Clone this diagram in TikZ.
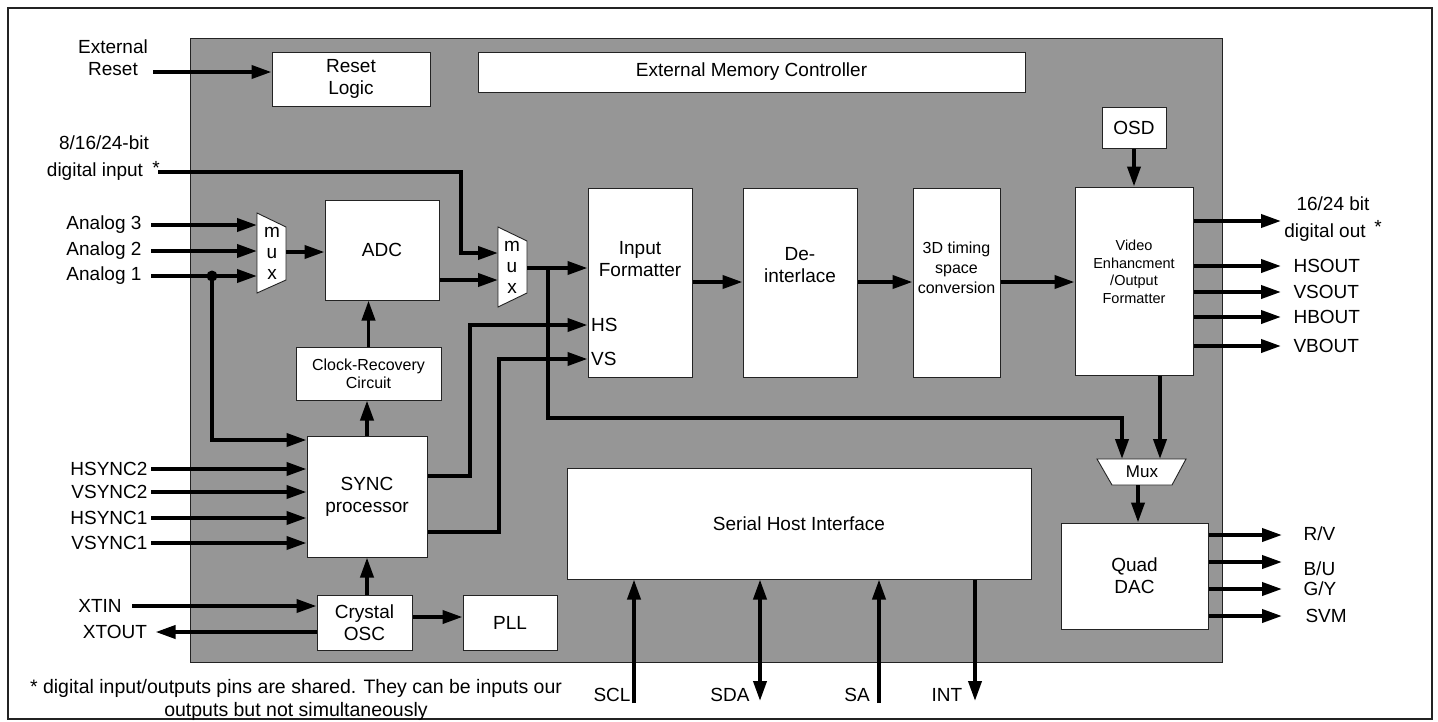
\documentclass[tikz,border=0pt]{standalone}
\usepackage{fontspec}
\setmainfont{Liberation Sans}
\usepackage{xcolor}
\usetikzlibrary{arrows.meta,positioning,calc}
\definecolor{chipgray}{RGB}{150,150,150}
\definecolor{edgegray}{RGB}{35,35,35}
\tikzset{
  blk/.style={draw=edgegray, fill=white, line width=1pt, inner sep=0pt, align=center},
  wire/.style={line width=3.8pt},
  muxshape/.style={draw=edgegray, fill=white, line width=0.9pt},
  smalltxt/.style={font=\fontsize{16}{18}\selectfont},
}
\begin{document}
\begin{tikzpicture}[x=1pt, y=-1pt, >={Triangle[length=20pt,width=13pt]}, font=\fontsize{19}{22}\selectfont, every node/.append style={align=center}]
        \useasboundingbox (0,0) rectangle (1438,721);
        % Frame and chip area
        \draw[line width=1.5pt, draw=edgegray] (8,8) rectangle (1432,719);
        \draw[fill=chipgray, draw=edgegray, line width=1pt] (190,38) rectangle (1222,662);

        % Top row blocks
        \node[blk, minimum width=158pt, minimum height=54pt] (rst) at (351,79) {Reset\\Logic};
        \node[blk, minimum width=547pt, minimum height=40pt] (emc) at (751.5,72) {External Memory Controller};
        \node[blk, minimum width=64pt, minimum height=41pt] (osd) at (1134,128) {OSD};

        % Video pipeline
        \node[blk, minimum width=114pt, minimum height=100pt] (adc) at (382,250) {ADC};
        \node[blk, minimum width=104pt, minimum height=189pt] (infmt) at (640,282.5) {};
        \node (infmtT) at (640,259) {Input\\Formatter};
        \node[anchor=west, inner sep=0pt] (hs) at (591,325) {HS};
        \node[anchor=west, inner sep=0pt] (vs) at (591,359) {VS};
        \node[blk, minimum width=114pt, minimum height=189pt] (deint) at (800,282.5) {};
        \node (deintT) at (800,265) {De-\\interlace};
        \node[blk, minimum width=87pt, minimum height=189pt] (conv) at (956.5,282.5) {};
        \node[font=\fontsize{16}{20}\selectfont] (convT) at (956.5,268) {3D timing\\space\\conversion};
        \node[blk, minimum width=118pt, minimum height=188pt] (video) at (1134,281) {};
        \node[font=\fontsize{14.5}{17.5}\selectfont] (videoT) at (1134,272) {Video\\Enhancment\\/Output\\Formatter};

        % Muxes
        \draw[muxshape] (257,213) -- (286,227) -- (286,280) -- (257,293) -- cycle;
        \node[font=\fontsize{19}{21}\selectfont] (mux1) at (272,253) {m\\u\\x};
        \coordinate (mux1in) at (257,253);
        \coordinate (mux1out) at (286,252);
        \draw[muxshape] (498,227) -- (527,241) -- (527,293) -- (498,307) -- cycle;
        \node[font=\fontsize{19}{21}\selectfont] (mux2) at (512,267) {m\\u\\x};
        \coordinate (mux2in) at (498,267);
        \coordinate (mux2out) at (527,268);
        \draw[muxshape] (1097,459) -- (1186,459) -- (1172,485) -- (1112,485) -- cycle;
        \node[font=\fontsize{17}{20}\selectfont] (mux3) at (1142,472) {Mux};
        \coordinate (mux3a) at (1122,459);
        \coordinate (mux3b) at (1160,459);
        \coordinate (mux3out) at (1138,485);

        % Lower blocks
        \node[blk, smalltxt, minimum width=145pt, minimum height=53pt] (clk) at (368.5,373.5) {Clock-Recovery\\Circuit};
        \node[blk, minimum width=120pt, minimum height=121pt] (sync) at (367,496.5) {SYNC\\processor};
        \node[blk, minimum width=95pt, minimum height=55pt] (xtal) at (364.5,622.5) {Crystal\\OSC};
        \node[blk, minimum width=94pt, minimum height=55pt] (pll) at (510,622.5) {PLL};
        \node[blk, minimum width=464pt, minimum height=111pt] (shi) at (799,523.5) {Serial Host Interface};
        \node[blk, minimum width=147pt, minimum height=106pt] (dac) at (1134.5,576) {Quad\\DAC};

        % Left side inputs
        \node (extrst) at (113,58) {External\\Reset};
        \coordinate (rstin) at (153,72);
        \draw[wire,->] (rstin) -- (rstin -| rst.west);
        \node (din1) at (104,143) {8/16/24-bit};
        \node (din2) at (95,172) {digital input};
        \node (star1) at (156,168) {*};
        \coordinate (dinstart) at (158,172);
        \coordinate (dinbend) at (461,172);
        \draw[wire,->] (dinstart) -- (dinbend) |- (mux2in |- 0,253);
        \node[anchor=east] (an3) at (145,225) {Analog 3};
        \node[anchor=east] (an2) at (145,251) {Analog 2};
        \node[anchor=east] (an1) at (145,276) {Analog 1};
        \draw[wire,->] ([xshift=6pt]an3.east) -- (an3.east -| mux1in);
        \draw[wire,->] ([xshift=6pt]an2.east) -- (an2.east -| mux1in);
        \draw[wire,->] ([xshift=6pt]an1.east) -- (an1.east -| mux1in);
        \coordinate (tapA) at (212,276);
        \fill (tapA) circle (5.5);
        \draw[wire,->] (tapA) -- (tapA |- 0,440) -- (sync.west |- 0,440);
        \node[anchor=east] (hsync2) at (151,469) {HSYNC2};
        \node[anchor=east] (vsync2) at (151,492) {VSYNC2};
        \node[anchor=east] (hsync1) at (151,518) {HSYNC1};
        \node[anchor=east] (vsync1) at (151,543) {VSYNC1};
        \draw[wire,->] (hsync2.east) -- (hsync2.east -| sync.west);
        \draw[wire,->] (vsync2.east) -- (vsync2.east -| sync.west);
        \draw[wire,->] (hsync1.east) -- (hsync1.east -| sync.west);
        \draw[wire,->] (vsync1.east) -- (vsync1.east -| sync.west);
        \node (xtin) at (100,606) {XTIN};
        \node (xtout) at (115,632) {XTOUT};
        \draw[wire,->] ([xshift=32pt]xtin.center) -- (xtal.west |- xtin);
        \draw[wire,->] (xtal.west |- xtout) -- ([xshift=5pt]xtout.east);

        % Internal connections
        \draw[wire,->] (mux1out) -- (mux1out -| adc.west);
        \draw[wire,->] (adc.east |- 0,280) -- (mux2in |- 0,280);
        \draw[wire,->] (mux2out) -- (mux2out -| infmt.west);
        \coordinate (tapB) at (548,268);
        \coordinate (muxbus) at (548,418);
        \draw[wire,->] (tapB) -- (muxbus) -| (mux3a);
        \coordinate (hsbend) at (470,476);
        \coordinate (vsbend) at (499,532);
        \draw[wire,->] (sync.east |- hsbend) -- (hsbend) |- (infmt.west |- hs);
        \draw[wire,->] (sync.east |- vsbend) -- (vsbend) |- (infmt.west |- vs);
        \draw[wire,->] (infmt.east |- 0,282) -- (deint.west |- 0,282);
        \draw[wire,->] (deint.east |- 0,282) -- (conv.west |- 0,282);
        \draw[wire,->] (conv.east |- 0,282) -- (video.west |- 0,282);
        \draw[wire,->] (osd.south) -- (video.north -| osd.south);
        \draw[wire,->] (clk.north) -- (adc.south -| clk.north);
        \draw[wire,->] (sync.north) -- (clk.south -| sync.north);
        \draw[wire,->] (xtal.north -| 367,0) -- (sync.south -| 367,0);
        \draw[wire,->] (xtal.east |- 0,617) -- (pll.west |- 0,617);
        \draw[wire,->] (video.south -| mux3b) -- (mux3b);
        \draw[wire,->] (mux3out) -- (dac.north -| mux3out);

        % Video outputs
        \node (dout1) at (1333,204) {16/24 bit};
        \node (dout2) at (1325,233) {digital out};
        \node (star2) at (1378,227) {*};
        \coordinate (doutend) at (1281,221);
        \draw[wire,->] (video.east |- doutend) -- (doutend);
        \node[anchor=west] (hsout) at (1290,266) {HSOUT};
        \node[anchor=west] (vsout) at (1290,292) {VSOUT};
        \node[anchor=west] (hbout) at (1290,317) {HBOUT};
        \node[anchor=west] (vbout) at (1290,346) {VBOUT};
        \draw[wire,->] (video.east |- hsout) -- ([xshift=-9pt]hsout.west);
        \draw[wire,->] (video.east |- vsout) -- ([xshift=-9pt]vsout.west);
        \draw[wire,->] (video.east |- hbout) -- ([xshift=-9pt]hbout.west);
        \draw[wire,->] (video.east |- vbout) -- ([xshift=-9pt]vbout.west);

        % DAC outputs
        \node[anchor=west] (rv) at (1300,534) {R/V};
        \node[anchor=west] (bu) at (1300,569) {B/U};
        \node[anchor=west] (gy) at (1300,589) {G/Y};
        \node[anchor=west] (svm) at (1302,616) {SVM};
        \coordinate (dacend) at (1282,0);
        \draw[wire,->] (dac.east |- 0,535) -- (dacend |- 0,535);
        \draw[wire,->] (dac.east |- 0,562) -- (dacend |- 0,562);
        \draw[wire,->] (dac.east |- 0,589) -- (dacend |- 0,589);
        \draw[wire,->] (dac.east |- 0,616) -- (dacend |- 0,616);

        % Serial host pins
        \node (scl) at (612,695) {SCL};
        \node (sda) at (730,695) {SDA};
        \node (sa) at (857,695) {SA};
        \node (int) at (947,695) {INT};
        \coordinate (sclpin) at (634,703);
        \coordinate (sdapin) at (760,701);
        \coordinate (sapin) at (879,703);
        \coordinate (intpin) at (975,701);
        \draw[wire,->] (sclpin) -- (sclpin |- shi.south);
        \draw[wire,<->] (sdapin) -- (sdapin |- shi.south);
        \draw[wire,->] (sapin) -- (sapin |- shi.south);
        \draw[wire,->] (intpin |- shi.south) -- (intpin);

        % Footnote
        \node[font=\fontsize{19.5}{23}\selectfont] (note) at (296,700) {* digital input/outputs pins are shared. They can be inputs our\\outputs but not simultaneously};
    \end{tikzpicture}
\end{document}
